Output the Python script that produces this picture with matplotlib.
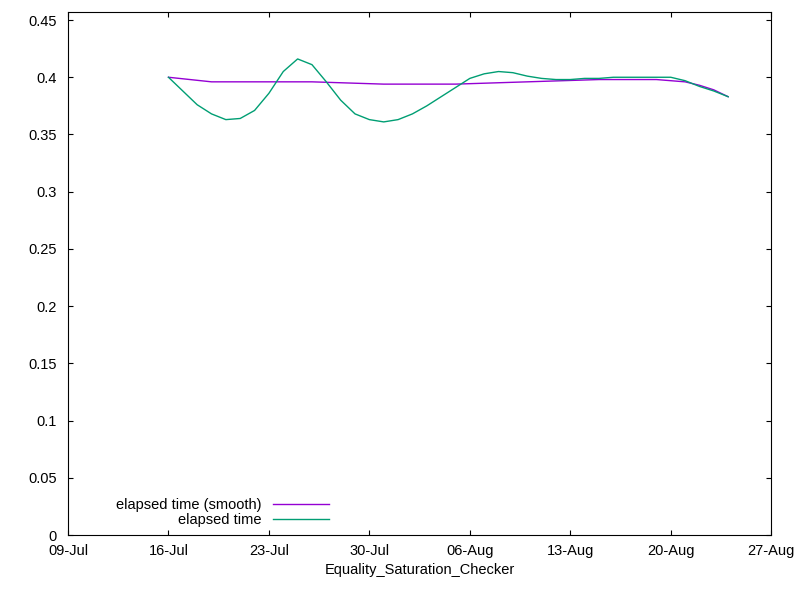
import numpy as np
import matplotlib
matplotlib.use("Agg")
import matplotlib.pyplot as plt
import matplotlib.dates as mdates
import datetime as dt

start = dt.datetime(2023, 7, 16)

# elapsed time (raw), one value per day from 16-Jul
raw_vals = [0.400, 0.388, 0.376, 0.368, 0.363, 0.364, 0.371, 0.386, 0.405, 0.416,
            0.411, 0.396, 0.380, 0.368, 0.363, 0.361, 0.363, 0.368, 0.375, 0.383,
            0.391, 0.399, 0.403, 0.405, 0.404, 0.401, 0.399, 0.398, 0.398, 0.399,
            0.399, 0.400, 0.400, 0.400, 0.400, 0.400, 0.397, 0.392, 0.388, 0.383]
raw_days = list(range(len(raw_vals)))

smooth_days = [0, 3, 10, 15, 20, 25, 30, 34, 36, 37, 38, 39]
smooth_vals = [0.400, 0.396, 0.396, 0.394, 0.394, 0.396, 0.398, 0.398, 0.396, 0.393, 0.389, 0.383]

raw_x = [start + dt.timedelta(days=d) for d in raw_days]
smooth_x = [start + dt.timedelta(days=d) for d in smooth_days]

plt.rcParams['font.family'] = ['Liberation Sans', 'DejaVu Sans']
fig, ax = plt.subplots(figsize=(8, 6), dpi=100)
fig.subplots_adjust(left=0.085, right=0.964, top=0.98, bottom=0.108)

ax.plot(smooth_x, smooth_vals, color='#9400D3', lw=1, label='elapsed time (smooth)')
ax.plot(raw_x, raw_vals, color='#009E73', lw=1, label='elapsed time')

ax.set_xlim(dt.datetime(2023, 7, 9), dt.datetime(2023, 8, 27))
ax.set_ylim(0, 0.457)
ax.set_yticks(np.arange(0, 0.451, 0.05))
ax.set_yticklabels(['0'] + ['%g' % v for v in np.arange(0.05, 0.451, 0.05)])
ax.set_xticks([dt.datetime(2023, 7, 9) + dt.timedelta(days=7 * i) for i in range(8)])
ax.xaxis.set_major_formatter(mdates.DateFormatter('%d-%b'))
ax.tick_params(direction='in', top=True, right=True, labelsize=10.5)
ax.tick_params(axis='x', pad=6)
ax.tick_params(axis='y', pad=8)
ax.set_xlabel('Equality_Saturation_Checker', fontsize=10.5)

ax.legend(loc='lower left', bbox_to_anchor=(0.05, -0.01), frameon=False, fontsize=10.5,
          markerfirst=False, handlelength=3.8, labelspacing=0.1)

fig.savefig('out.png')
